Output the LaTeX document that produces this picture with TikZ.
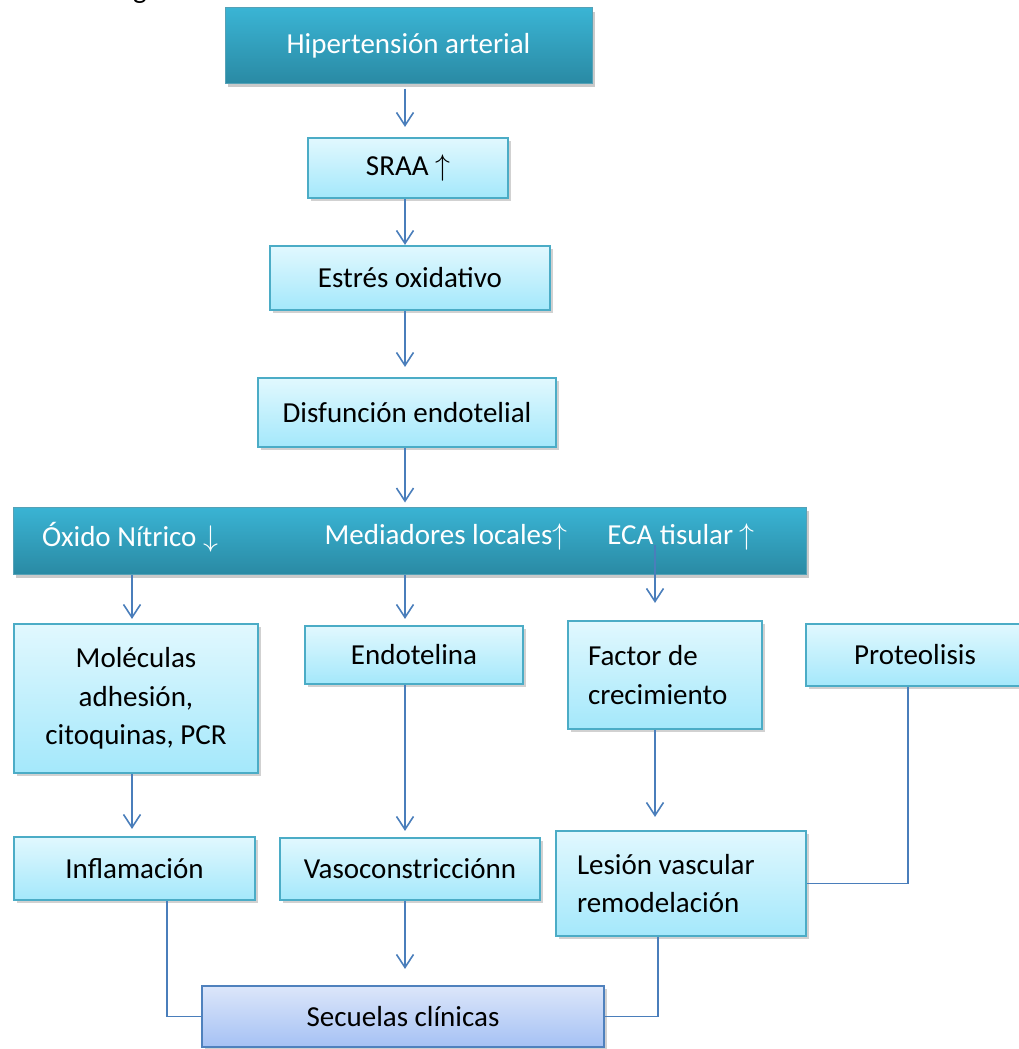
\documentclass[tikz,border=0pt]{standalone}
\usepackage{fontspec}
\setmainfont{Carlito}
\usetikzlibrary{arrows.meta,shadows}
\definecolor{lineblue}{HTML}{4A7EBB}
\definecolor{lighttop}{HTML}{E1F8FE}
\definecolor{lightbot}{HTML}{A4E8FB}
\definecolor{lightedge}{HTML}{4BACC6}
\definecolor{darktop}{HTML}{3AB4D4}
\definecolor{darkbot}{HTML}{2A8AA4}
\definecolor{sectop}{HTML}{DCE6FA}
\definecolor{secbot}{HTML}{A5C1F4}
\definecolor{secedge}{HTML}{4F81BD}
\newcommand{\arrup}{\scalebox{1.2}{$\uparrow$}}
\newcommand{\arrdown}{\scalebox{1.2}{$\downarrow$}}
\tikzstyle{lbox}=[draw=lightedge, line width=2.2pt, top color=lighttop, bottom color=lightbot, inner sep=0, align=center, drop shadow={shadow xshift=3pt, shadow yshift=-3pt, opacity=.3, fill=black!60}]
\tikzstyle{dbox}=[draw=darkbot!80, line width=1pt, top color=darktop, bottom color=darkbot, text=white, inner sep=0, drop shadow={shadow xshift=3pt, shadow yshift=-4pt, opacity=.35, fill=black!60}]
\tikzstyle{sbox}=[draw=secedge, line width=2.2pt, top color=sectop, bottom color=secbot, inner sep=0, drop shadow={shadow xshift=3pt, shadow yshift=-3pt, opacity=.3, fill=black!60}]
\tikzstyle{btext}=[text=white, inner sep=0]
\tikzstyle{conn}=[draw=lineblue, line width=1.6pt, -{Straight Barb[length=13pt, width=17pt]}]
\tikzstyle{elbow}=[draw=lineblue, line width=1.6pt]

\begin{document}
\begin{tikzpicture}[x=1pt, y=-1pt, font=\fontsize{29}{38.5}\selectfont]
\useasboundingbox (0,0) rectangle (1018,1049);
\node[anchor=base, inner sep=0] (frag) at (140,-1) {g};
\node[dbox, minimum width=367pt, minimum height=75pt] (hta) at (408.5,45.5) {Hipertensión arterial};
\node[lbox, minimum width=200pt, minimum height=60pt] (sraa) at (408,168) {SRAA \arrup};
\node[lbox, minimum width=280pt, minimum height=64pt] (estres) at (410,278) {Estrés oxidativo};
\node[lbox, minimum width=298pt, minimum height=69pt] (disf) at (407,412.5) {Disfunción endotelial};
\node[dbox, minimum width=793pt, minimum height=67pt] (band) at (409.5,540.5) {};
\node[btext] (nitrico) at (130,537) {Óxido Nítrico \arrdown};
\node[btext] (medi) at (446,537) {Mediadores locales\arrup};
\node[btext] (eca) at (681,537) {ECA tisular \arrup};
\node[lbox, minimum width=244pt, minimum height=149pt] (mol) at (136,698.5) {Moléculas\\adhesión,\\citoquinas, PCR};
\node[lbox, minimum width=218pt, minimum height=58pt] (endo) at (414,655) {Endotelina};
\node[lbox, minimum width=194pt, minimum height=108pt, text width=154pt, align=flush left] (fac) at (665,675) {Factor de\\crecimiento};
\node[lbox, minimum width=218pt, minimum height=62pt] (prot) at (915,655) {Proteolisis};
\node[lbox, minimum width=241pt, minimum height=63pt] (infl) at (134.5,868.5) {Inflamación};
\node[lbox, minimum width=260pt, minimum height=62pt] (vaso) at (410,869) {Vasoconstricciónn};
\node[lbox, minimum width=250pt, minimum height=105pt, text width=208pt, align=flush left] (les) at (681,883.5) {Lesión vascular\\remodelación};
\node[sbox, minimum width=402pt, minimum height=61pt] (sec) at (403,1016.5) {Secuelas clínicas};
% columns of the connectors
\coordinate (xo) at (132,0);
\coordinate (xm) at (405,0);
\coordinate (xe) at (655,0);
\coordinate (xi) at (167,0);
\coordinate (xl) at (658,0);
\coordinate (xp) at (908,0);
\draw[conn, shorten <=5pt, shorten >=10pt] (hta.south -| xm) -- (sraa.north -| xm);
\draw[conn] (sraa.south -| xm) -- (estres.north -| xm);
\draw[conn, shorten >=10pt] (estres.south -| xm) -- (disf.north -| xm);
\draw[conn, shorten >=4pt] (disf.south -| xm) -- (band.north -| xm);
\draw[conn, shorten >=4pt] (band.south -| xo) -- (mol.north -| xo);
\draw[conn, shorten >=6pt] (band.south -| xm) -- (endo.north -| xm);
\draw[conn, shorten <=-5pt, shorten >=17pt] (eca.south -| xe) -- (fac.north -| xe);
\draw[conn, shorten >=7pt] (mol.south -| xo) -- (infl.north -| xo);
\draw[conn, shorten >=6pt] (endo.south -| xm) -- (vaso.north -| xm);
\draw[conn, shorten >=13pt] (fac.south -| xe) -- (les.north -| xe);
\draw[conn, shorten >=16pt] (vaso.south -| xm) -- (sec.north -| xm);
\draw[elbow] (infl.south -| xi) |- (sec.west);
\draw[elbow] (les.south -| xl) |- (sec.east);
\draw[elbow] (prot.south -| xp) |- (les.east);
\end{tikzpicture}
\end{document}
